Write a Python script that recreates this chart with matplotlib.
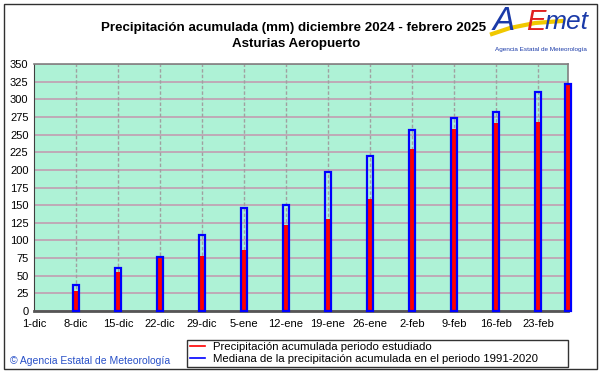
import matplotlib
matplotlib.use('Agg')
import matplotlib.pyplot as plt
from matplotlib.lines import Line2D
from matplotlib.patches import Rectangle
import numpy as np
import pandas as pd

plt.rcParams['font.family'] = ['Liberation Sans', 'DejaVu Sans']

start = '2024-12-01'
end = '2025-02-28'
bar_dates = ['2024-12-08', '2024-12-15', '2024-12-22', '2024-12-29', '2025-01-05',
             '2025-01-12', '2025-01-19', '2025-01-26', '2025-02-02', '2025-02-09',
             '2025-02-16', '2025-02-23', '2025-02-28']
observed = [29, 55, 75, 78, 87, 122, 130, 158, 230, 258, 266, 268, 320]
median = [37, 61, 77, 108, 146, 150, 197, 219, 256, 274, 282, 311, 321]
tick_labels = ['1-dic', '8-dic', '15-dic', '22-dic', '29-dic', '5-ene', '12-ene',
               '19-ene', '26-ene', '2-feb', '9-feb', '16-feb', '23-feb']
legend_labels = ['Precipitación acumulada periodo estudiado',
                 'Mediana de la precipitación acumulada en el periodo 1991-2020']

t0 = pd.Timestamp(start)
x = np.array([(pd.Timestamp(d) - t0).days for d in bar_dates])
x_end = (pd.Timestamp(end) - t0).days
tick_pos = np.arange(len(tick_labels)) * 7

fig = plt.figure(figsize=(6.01, 3.74), dpi=100)
ax = fig.add_axes([34 / 601, 1 - 311 / 374, (568 - 34) / 601, (311 - 64) / 374])
ax.set_facecolor('#aef2d6')

ax.set_xlim(0, x_end)
ax.set_ylim(0, 350)
ax.set_yticks(np.arange(0, 351, 25))
ax.set_xticks(tick_pos)
ax.set_xticklabels(tick_labels)
ax.tick_params(length=0, labelsize=8, colors='#000000')
ax.tick_params(axis='x', pad=6)
ax.tick_params(axis='y', pad=4)

ax.yaxis.grid(True, color='#c0a4b4', lw=1.3, ls='-')
for p in tick_pos[1:]:
    ax.axvline(p, color='#a0a0a0', lw=1.0, ls=(0, (2.5, 1.5)), zorder=1)
ax.set_axisbelow(True)

for s in ['top', 'right']:
    ax.spines[s].set_color('#808080')
    ax.spines[s].set_linewidth(1.2)
ax.spines['left'].set_color('#404040')
ax.spines['bottom'].set_color('#555555')
ax.spines['bottom'].set_linewidth(2)

ax.bar(x, observed, width=1.15, color='#ff0000', zorder=3, clip_on=False)
ax.bar(x, median, width=1.15, facecolor='none', edgecolor='#0000ff', lw=1.6,
       zorder=4, clip_on=False)

fig.text(294 / 601, 1 - 28 / 374, 'Precipitación acumulada (mm) diciembre 2024 - febrero 2025',
         ha='center', va='center', fontsize=9.6, fontweight='bold')
fig.text(296 / 601, 1 - 44 / 374, 'Asturias Aeropuerto',
         ha='center', va='center', fontsize=9.6, fontweight='bold')

handles = [Line2D([], [], color='#ff0000', lw=1.2), Line2D([], [], color='#0000ff', lw=1.2)]
leg = fig.legend(handles, legend_labels, loc='lower left',
                 bbox_to_anchor=(187 / 601, 1 - 367 / 374, (568 - 187) / 601, 30 / 374),
                 mode='expand', fontsize=8.2, frameon=True, fancybox=False,
                 borderpad=0.25, labelspacing=0.15, handlelength=1.3, handletextpad=0.7,
                 borderaxespad=0)
leg.get_frame().set_edgecolor('#000000')
leg.get_frame().set_linewidth(1.0)

fig.text(10 / 601, 1 - 361 / 374, '© Agencia Estatal de Meteorología',
         ha='left', va='center', fontsize=7.5, color='#2850c8')

# logo
fig.add_artist(Line2D([492 / 601, 510 / 601, 535 / 601, 562 / 601],
                      [1 - 34 / 374, 1 - 28 / 374, 1 - 23 / 374, 1 - 21 / 374],
                      color='#f0c800', lw=3, transform=fig.transFigure))
fig.text(493 / 601, 1 - 21 / 374, 'A', fontsize=24, color='#1a3aa8', style='italic',
         ha='left', va='center')
fig.text(526 / 601, 1 - 22 / 374, 'E', fontsize=21, color='#e02020', style='italic',
         ha='left', va='center')
fig.text(545 / 601, 1 - 22 / 374, 'met', fontsize=19, color='#1a3aa8', style='italic',
         ha='left', va='center')
fig.text(541 / 601, 1 - 49 / 374, 'Agencia Estatal de Meteorología', fontsize=4.6,
         color='#1a3aa8', ha='center', va='center')

fig.add_artist(Rectangle((4 / 601, 1 - 369 / 374), 593 / 601, 365 / 374,
                         transform=fig.transFigure, fill=False, edgecolor='#303030', lw=1.0))

fig.savefig('out.png', dpi=100)
